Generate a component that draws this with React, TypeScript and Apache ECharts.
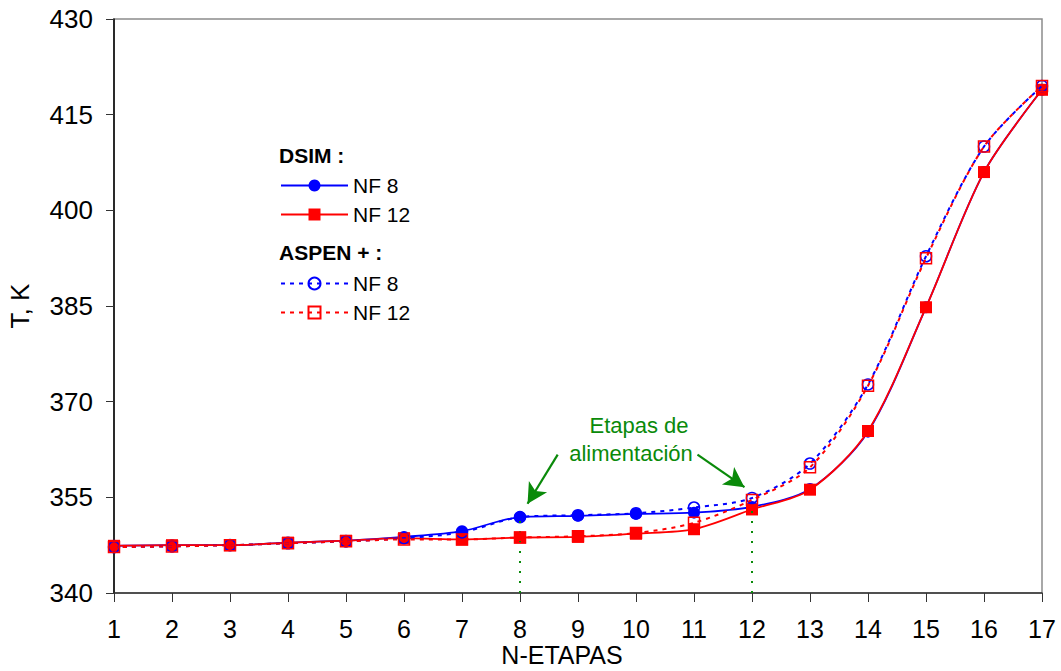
import React, { useEffect, useRef } from "react";
import * as echarts from "echarts";

const stages = [1, 2, 3, 4, 5, 6, 7, 8, 9, 10, 11, 12, 13, 14, 15, 16, 17];
const dsimNF8 = [347.4, 347.5, 347.5, 347.9, 348.2, 348.8, 349.7, 351.9, 352.1, 352.4, 352.6, 353.5, 356.3, 365.3, 384.8, 406.0, 418.9];
const dsimNF12 = [347.4, 347.5, 347.5, 347.9, 348.2, 348.6, 348.4, 348.7, 348.8, 349.3, 350.0, 353.1, 356.2, 365.4, 384.8, 406.0, 418.9];
const aspenNF8 = [347.2, 347.3, 347.5, 347.8, 348.1, 348.6, 349.5, 351.9, 352.2, 352.5, 353.4, 354.9, 360.3, 372.7, 392.8, 410.0, 419.5];
const aspenNF12 = [347.2, 347.3, 347.5, 347.8, 348.1, 348.4, 348.4, 348.7, 348.9, 349.4, 351.0, 354.6, 359.7, 372.5, 392.5, 410.0, 419.5];
const feedStages = [8, 12];
const feedTop = [351.4, 353.8];
const arrows = [
  [[8.65, 361.7], [8.13, 354.0]],
  [[11.06, 361.7], [11.87, 356.6]],
];
const yTicks = { min: 340, max: 430, interval: 15 };
const xTicks = { min: 1, max: 17, interval: 1 };

const FONT = "'Liberation Sans', Arial, sans-serif";
const BLUE = "#0000ff";
const RED = "#ff0000";
const GREEN = "#0a8a0a";

const pairs = (ys: number[]) => stages.map((x, i) => [x, ys[i]]);

export default function App() {
  const ref = useRef<HTMLDivElement>(null);
  useEffect(() => {
    document.body.style.margin = "0";
    const chart = echarts.init(ref.current!, null, { renderer: "svg" });
    const legendFormatter = (name: string) => name.replace(/^(DSIM|ASPEN) /, "");
    const legendText = { fontSize: 21, color: "#000", fontFamily: FONT, lineHeight: 21 };
    const legendBase = {
      left: 280,
      orient: "vertical",
      padding: 0,
      itemWidth: 67,
      itemHeight: 15,
      itemGap: 8,
      formatter: legendFormatter,
      textStyle: legendText,
    };
    chart.setOption({
      animation: false,
      backgroundColor: "#fff",
      textStyle: { fontFamily: FONT },
      grid: {
        left: 114,
        right: 19,
        top: 19,
        bottom: 78,
        outerBoundsMode: "none",
        containLabel: false,
        show: true,
        borderColor: "#8c8c8c",
        borderWidth: 1.5,
      },
      xAxis: {
        type: "value",
        min: xTicks.min,
        max: xTicks.max,
        interval: xTicks.interval,
        name: "N-ETAPAS",
        nameLocation: "middle",
        nameGap: 49,
        nameMoveOverlap: false,
        nameTextStyle: { fontSize: 25, lineHeight: 25, color: "#000", fontFamily: FONT, padding: [0, 32, 0, 0] },
        axisLine: { lineStyle: { color: "#333", width: 1.5 } },
        axisTick: { length: 9, lineStyle: { color: "#333", width: 1 } },
        axisLabel: { fontSize: 25, lineHeight: 25, color: "#000", margin: 23, fontFamily: FONT },
        splitLine: { show: false },
      },
      yAxis: {
        type: "value",
        min: yTicks.min,
        max: yTicks.max,
        interval: yTicks.interval,
        name: "T, K",
        nameLocation: "middle",
        nameGap: 81,
        nameMoveOverlap: false,
        nameTextStyle: { fontSize: 26, color: "#000", fontFamily: FONT },
        axisLine: { show: true, lineStyle: { color: "#000", width: 1.5 } },
        axisTick: { show: true, length: 8, lineStyle: { color: "#333", width: 1 } },
        axisLabel: { fontSize: 26, color: "#000", margin: 21, fontFamily: FONT },
        splitLine: { show: false },
      },
      legend: [
        { ...legendBase, top: 175, data: ["DSIM NF 8", "DSIM NF 12"] },
        { ...legendBase, top: 273, data: ["ASPEN NF 8", "ASPEN NF 12"] },
      ],
      graphic: [
        {
          type: "text",
          left: 279,
          top: 145,
          style: { text: "DSIM :", fontSize: 21, fontWeight: "bold", fill: "#000", fontFamily: FONT },
        },
        {
          type: "text",
          left: 279,
          top: 242,
          style: { text: "ASPEN + :", fontSize: 21, fontWeight: "bold", fill: "#000", fontFamily: FONT },
        },
        {
          type: "text",
          x: 639,
          y: 425,
          style: {
            text: "Etapas de",
            fontSize: 22,
            fill: GREEN,
            fontFamily: FONT,
            align: "center",
            verticalAlign: "middle",
          },
        },
        {
          type: "text",
          x: 631,
          y: 453,
          style: {
            text: "alimentación",
            fontSize: 22,
            fill: GREEN,
            fontFamily: FONT,
            align: "center",
            verticalAlign: "middle",
          },
        },
      ],
      series: [
        {
          name: "DSIM NF 8",
          type: "line",
          data: pairs(dsimNF8),
          smooth: 0.3,
          symbol: "circle",
          symbolSize: 12,
          lineStyle: { color: BLUE, width: 1.8 },
          itemStyle: { color: BLUE },
          z: 2,
        },
        {
          name: "DSIM NF 12",
          type: "line",
          data: pairs(dsimNF12),
          smooth: 0.3,
          symbol: "rect",
          symbolSize: 12,
          lineStyle: { color: RED, width: 1.8 },
          itemStyle: { color: RED },
          z: 3,
          markLine: {
            silent: true,
            symbol: ["none", "none"],
            label: { show: false },
            lineStyle: { color: GREEN, type: [2, 8], width: 2 },
            data: feedStages.map((s, i) => [{ coord: [s, yTicks.min] }, { coord: [s, feedTop[i]] }]),
          },
        },
        {
          name: "ASPEN NF 8",
          type: "line",
          data: pairs(aspenNF8),
          smooth: 0.3,
          symbol: "circle",
          symbolSize: 11,
          lineStyle: { color: BLUE, width: 2, type: [4, 5] },
          itemStyle: { color: "transparent", borderColor: BLUE, borderWidth: 1.5 },
          z: 4,
          markLine: {
            silent: true,
            symbol: ["none", "arrow"],
            symbolSize: [16, 20],
            label: { show: false },
            lineStyle: { color: GREEN, type: "solid", width: 2.2 },
            data: arrows.map(([a, b]) => [{ coord: a }, { coord: b }]),
          },
        },
        {
          name: "ASPEN NF 12",
          type: "line",
          data: pairs(aspenNF12),
          smooth: 0.3,
          symbol: "rect",
          symbolSize: 11,
          lineStyle: { color: RED, width: 2, type: [4, 5] },
          itemStyle: { color: "transparent", borderColor: RED, borderWidth: 1.5 },
          z: 5,
        },
      ],
    });
    return () => chart.dispose();
  }, []);
  return <div ref={ref} style={{ width: 1061, height: 671 }} />;
}
